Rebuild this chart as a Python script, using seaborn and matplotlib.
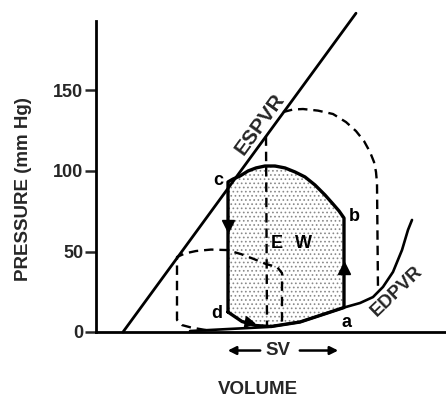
import matplotlib
matplotlib.use("Agg")
import matplotlib.pyplot as plt
import seaborn as sns

sns.set_style("white")
plt.rcParams['font.family'] = ['Liberation Sans', 'DejaVu Sans']
plt.rcParams['hatch.linewidth'] = 0.7

# ---- data (volume in arbitrary units, pressure in mm Hg) ----
espvr_vol = [27, 260]
espvr_p = [0, 198]

edpvr_vol = [94, 134, 172, 204, 248, 264, 277, 287, 297, 306, 312, 316]
edpvr_p = [0.6, 1.9, 3.1, 6.2, 15.2, 18.0, 21.7, 28.0, 37.3, 50.9, 63.4, 69.6]

loop_vol = [132, 132, 137, 144, 152, 160, 169, 179, 189, 199, 209, 219, 229, 237, 243, 248,
            248, 230, 204, 175, 160, 146, 132]
loop_p = [12.4, 93.2, 95.0, 96.9, 100.0, 101.9, 103.1, 103.1, 101.9, 99.4, 96.3, 91.3, 85.1,
          79.5, 75.2, 70.8, 15.2, 11.5, 6.2, 3.4, 4.0, 6.5, 12.4]

small_vol = [110, 95, 86, 81, 81, 89, 100, 115, 131, 145, 158, 170, 181, 186, 186]
small_p = [1.2, 2.8, 4.3, 7.5, 46.6, 48.8, 50.3, 51.2, 50.9, 48.4, 45.3, 42.2, 40.4, 36.6, 4.3]

big_vert_vol = [170, 171]
big_vert_p = [121.5, 4.3]

big_arc_vol = [187, 197, 207, 222, 237, 250, 260, 268, 274, 278, 280, 281, 282]
big_arc_p = [136.6, 138.2, 138.5, 137.5, 135.4, 130.4, 124.8, 118.6, 111.8, 105.6, 99.4, 92.5, 25.5]

yticks = [0, 50, 100, 150]
ytick_labels = ["0", "50", "100", "150"]

# ---- figure ----
W, H = 446, 401
fig = plt.figure(figsize=(W / 100, H / 100), dpi=100)
ax = fig.add_axes([96 / W, 69 / H, 350 / W, 311 / H])
ax.set_xlim(0, 350)
ax.set_ylim(0, 311 / 1.61)

# stipple fill of the main loop
ax.fill(loop_vol, loop_p, facecolor="white", edgecolor="#8a8a8a", hatch="....", lw=0, zorder=1)

dash = (0, (4, 2.5))
sns.lineplot(x=espvr_vol, y=espvr_p, sort=False, estimator=None, color="black", lw=2.0,
             ax=ax, clip_on=False, zorder=3)
sns.lineplot(x=edpvr_vol, y=edpvr_p, sort=False, estimator=None, color="black", lw=1.9,
             ax=ax, zorder=3)
sns.lineplot(x=loop_vol, y=loop_p, sort=False, estimator=None, color="black", lw=2.4,
             ax=ax, zorder=4)
for xs, ys in [(small_vol, small_p), (big_vert_vol, big_vert_p), (big_arc_vol, big_arc_p)]:
    sns.lineplot(x=xs, y=ys, sort=False, estimator=None, color="black", lw=1.7,
                 linestyle=dash, ax=ax, zorder=3)

# direction arrows on the loop
ax.plot([132], [66], marker="v", color="black", ms=9, zorder=5)
ax.plot([248], [40], marker="^", color="black", ms=9, zorder=5)
ax.plot([152], [6.2], marker=(3, 0, -100), color="black", ms=9, zorder=5)

# point labels
lab = dict(fontsize=13, fontweight="bold", color="black", ha="center", va="center")
ax.text(122, 94, "c", **lab)
ax.text(258, 72, "b", **lab)
ax.text(251, 6.0, "a", **lab)
ax.text(121, 11.5, "d", **lab)
ax.text(181, 55, "E", **lab)
ax.text(207, 55, "W", **lab)
ax.text(164, 129, "ESPVR", fontsize=15, fontweight="bold", rotation=54,
        ha="center", va="center")
ax.text(301, 25.5, "EDPVR", fontsize=13.5, fontweight="bold", rotation=44,
        ha="center", va="center")

# SV arrows below axis
ax.text(182, -11.5, "SV", fontsize=13.5, fontweight="bold", ha="center", va="center",
        clip_on=False)
ax.annotate("", xy=(129, -11.5), xytext=(167, -11.5), xycoords="data",
            arrowprops=dict(arrowstyle="-|>", color="black", lw=1.8, mutation_scale=12),
            annotation_clip=False)
ax.annotate("", xy=(245, -11.5), xytext=(201, -11.5), xycoords="data",
            arrowprops=dict(arrowstyle="-|>", color="black", lw=1.8, mutation_scale=12),
            annotation_clip=False)

# axes styling
for s in ["top", "right"]:
    ax.spines[s].set_visible(False)
for s in ["left", "bottom"]:
    ax.spines[s].set_linewidth(2.0)
    ax.spines[s].set_color("black")
ax.set_xticks([])
ax.set_yticks(yticks)
ax.set_yticklabels(ytick_labels, fontsize=13, fontweight="bold")
ax.tick_params(axis="y", direction="out", length=8, width=1.8, pad=1, left=True)
ax.set_xlabel("")
ax.set_ylabel("")

fig.text(258 / W, 1 - 389 / H, "VOLUME", fontsize=13.5, fontweight="bold",
         ha="center", va="center")
fig.text(24 / W, 1 - 189 / H, "PRESSURE (mm Hg)", fontsize=13.5, fontweight="bold",
         rotation=90, ha="center", va="center")

fig.savefig("out.png", dpi=100)
